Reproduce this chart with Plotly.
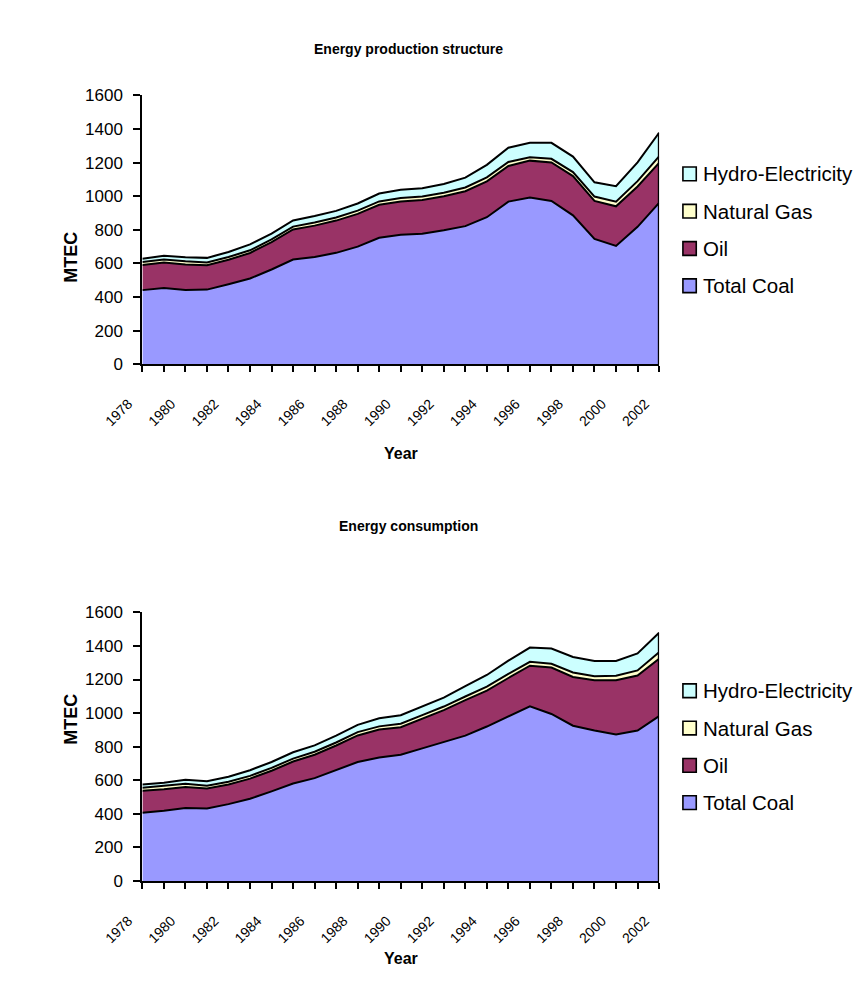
import plotly.graph_objects as go

# years on the category axis
years = list(range(1978, 2003))

# energy production, MTEC
prod_coal = [441, 453, 442, 444, 476, 510, 564, 623, 638, 663, 700, 753, 771,
             777, 797, 822, 875, 968, 992, 972, 886, 746, 704, 818, 960]
prod_oil = [149, 152, 152, 145, 146, 152, 163, 179, 187, 192, 195, 196, 197,
            201, 203, 208, 214, 212, 220, 229, 234, 226, 236, 240, 239]
prod_gas = [18, 19, 19, 17, 16, 16, 16, 17, 19, 18, 19, 20, 21,
            21, 21, 22, 23, 24, 20, 22, 24, 26, 28, 32, 38]
prod_hydro = [20, 21, 24, 27, 30, 35, 35, 37, 38, 40, 43, 47, 50,
              49, 52, 59, 75, 85, 86, 95, 92, 85, 92, 112, 141]

# energy consumption, MTEC
cons_coal = [406, 418, 435, 432, 458, 490, 534, 581, 613, 660, 709, 736, 752,
             790, 827, 866, 920, 979, 1040, 995, 925, 896, 872, 896, 982]
cons_oil = [131, 128, 125, 119, 117, 120, 123, 131, 139, 147, 158, 166, 164,
            177, 191, 211, 214, 230, 242, 276, 290, 299, 323, 328, 342]
cons_gas = [18, 19, 19, 17, 16, 16, 17, 17, 18, 18, 20, 19, 21,
            21, 21, 22, 23, 24, 23, 23, 27, 25, 28, 30, 38]
cons_hydro = [20, 21, 24, 27, 30, 34, 35, 38, 38, 41, 43, 48, 50,
              50, 53, 61, 70, 79, 85, 90, 92, 90, 87, 101, 116]

series_names = ['Total Coal', 'Oil', 'Natural Gas', 'Hydro-Electricity']
series_colors = ['#9999FF', '#993366', '#FFFFCC', '#CCFFFF']

# the page body keeps its default 8px margin, so the figure is drawn 8px smaller
# and all positions below are given in page pixels
PAGE_OFF = 8
W, H = 865 - PAGE_OFF, 996 - PAGE_OFF
FONT = 'Liberation Sans, Arial, sans-serif'


def px_x(x):
    return (x - PAGE_OFF) / W


def px_y(y):
    return 1 - (y - PAGE_OFF) / H


fig = go.Figure()

# pixel layout of the two stacked charts (top, bottom of plot area, title/axis-title rows)
charts = [
    dict(title='Energy production structure', data=[prod_coal, prod_oil, prod_gas, prod_hydro],
         top=88, bottom=362, title_y=30, xtitle_y=453, ax=''),
    dict(title='Energy consumption', data=[cons_coal, cons_oil, cons_gas, cons_hydro],
         top=615, bottom=889, title_y=527, xtitle_y=979, ax='2'),
]

LEG_STEP = 38

for c in charts:
    xa = 'x' + c['ax']
    ya = 'y' + c['ax']
    for name, vals, col in zip(series_names, c['data'], series_colors):
        fig.add_trace(go.Scatter(
            x=years, y=vals, xaxis=xa, yaxis=ya,
            mode='lines', stackgroup='s' + c['ax'],
            line=dict(color='black', width=2),
            fillcolor=col, name=name, showlegend=False,
            hoverinfo='x+y+name'
        ))
    # right-hand edge of the stacked area
    total_last = sum(s[-1] for s in c['data'])
    fig.add_trace(go.Scatter(
        x=[years[-1], years[-1]], y=[0, total_last], xaxis=xa, yaxis=ya,
        mode='lines', line=dict(color='black', width=2.5), showlegend=False,
        hoverinfo='skip'
    ))

    # Excel-style legend on the right: square key + label, Hydro on top
    mid = (c['top'] + c['bottom']) / 2
    for i, (name, col) in enumerate(zip(series_names[::-1], series_colors[::-1])):
        yc = mid + (i - 1.5) * LEG_STEP
        fig.add_shape(type='rect', xref='paper', yref='paper',
                      x0=px_x(674), x1=px_x(688), y0=px_y(yc + 7), y1=px_y(yc - 7),
                      fillcolor=col, line=dict(color='black', width=1.6))
        fig.add_annotation(text=name, xref='paper', yref='paper',
                           x=px_x(693), y=px_y(yc), xanchor='left', yanchor='middle',
                           showarrow=False,
                           font=dict(size=20.5, color='black', family=FONT))

    fig.add_annotation(text='<b>' + c['title'] + '</b>', xref='paper', yref='paper',
                       x=px_x(386), y=px_y(c['title_y']), showarrow=False,
                       font=dict(size=14, color='black', family=FONT))
    fig.add_annotation(text='<b>MTEC</b>', xref='paper', yref='paper',
                       x=px_x(20), y=px_y(mid), textangle=-90,
                       showarrow=False, font=dict(size=18, color='black', family=FONT))
    fig.add_annotation(text='<b>Year</b>', xref='paper', yref='paper',
                       x=px_x(378), y=px_y(c['xtitle_y']), showarrow=False,
                       font=dict(size=16, color='black', family=FONT))

axis_common_x = dict(
    range=[years[0], years[-1]], tickvals=years,
    ticktext=[str(y) if y % 2 == 0 else '' for y in years],
    tickangle=-45, ticks='outside', ticklen=6, tickwidth=1.8, tickcolor='black',
    ticklabelstandoff=18, ticklabelshift=-14,
    showline=True, linecolor='black', linewidth=2.2, showgrid=False, zeroline=False,
    tickfont=dict(size=14, color='black', family=FONT),
)
axis_common_y = dict(
    range=[0, 1600], dtick=200, ticks='outside', ticklen=7, tickwidth=1.8,
    tickcolor='black', showline=True, linecolor='black', linewidth=2.2,
    showgrid=False, zeroline=False, ticklabelstandoff=7,
    tickfont=dict(size=17, color='black', family=FONT),
)

fig.update_layout(
    width=W, height=H,
    margin=dict(l=0, r=0, t=0, b=0),
    paper_bgcolor='white', plot_bgcolor='white',
    showlegend=False,
    xaxis=dict(domain=[px_x(107), px_x(649)], anchor='y', **axis_common_x),
    yaxis=dict(domain=[px_y(362), px_y(88)], anchor='x', **axis_common_y),
    xaxis2=dict(domain=[px_x(107), px_x(649)], anchor='y2', **axis_common_x),
    yaxis2=dict(domain=[px_y(889), px_y(615)], anchor='x2', **axis_common_y),
)

fig.write_html('out.html')
